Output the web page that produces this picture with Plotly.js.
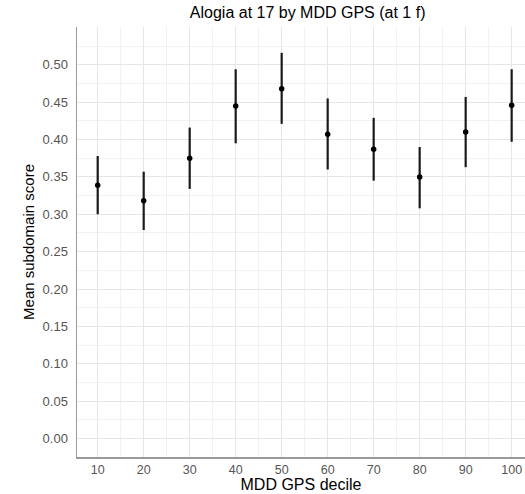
<!DOCTYPE html>
<html>
<head>
<meta charset="utf-8">
<script src="https://cdn.plot.ly/plotly-3.0.1.min.js"></script>
<style>html,body{margin:0;padding:0;background:#fff;overflow:hidden}</style>
</head>
<body>
<div id="chart" style="width:525px;height:494px"></div>
<script>
var deciles = [10, 20, 30, 40, 50, 60, 70, 80, 90, 100];
var meanScore = [0.339, 0.318, 0.375, 0.445, 0.468, 0.407, 0.387, 0.350, 0.410, 0.446];
var upperCI = [0.378, 0.357, 0.416, 0.494, 0.516, 0.455, 0.429, 0.390, 0.457, 0.494];
var lowerCI = [0.300, 0.279, 0.334, 0.395, 0.421, 0.360, 0.345, 0.308, 0.363, 0.397];
var yTicks = [0, 0.05, 0.10, 0.15, 0.20, 0.25, 0.30, 0.35, 0.40, 0.45, 0.50];

var errPlus = meanScore.map(function (m, i) { return upperCI[i] - m; });
var errMinus = meanScore.map(function (m, i) { return m - lowerCI[i]; });

var trace = {
  x: deciles,
  y: meanScore,
  type: 'scatter',
  mode: 'markers',
  marker: {color: '#000000', size: 5.5},
  error_y: {
    type: 'data', symmetric: false,
    array: errPlus, arrayminus: errMinus,
    thickness: 2.2, width: 0, color: '#1a1a1a'
  },
  hoverinfo: 'x+y'
};

var layout = {
  width: 525, height: 494,
  paper_bgcolor: '#ffffff', plot_bgcolor: '#ffffff',
  margin: {l: 77, r: 0, t: 27, b: 37, pad: 0},
  showlegend: false,
  font: {family: 'Liberation Sans, Arial, sans-serif', color: '#000'},
  title: {
    text: 'Alogia at 17 by MDD GPS (at 1 f)',
    font: {size: 16, color: '#000'},
    x: 0.586, xanchor: 'center', y: 0.974, yanchor: 'middle'
  },
  xaxis: {
    range: [5.5, 102.9],
    tickvals: deciles,
    ticktext: deciles.map(String),
    ticks: '', showline: true, linecolor: '#9a9a9a', linewidth: 1.5,
    showgrid: true, gridcolor: '#e6e6e6', gridwidth: 1,
    minor: {dtick: 5, tick0: 5, showgrid: true, gridcolor: '#f2f2f2', gridwidth: 1},
    zeroline: false,
    tickfont: {size: 12.5, color: '#555'},
    title: {text: 'MDD GPS decile', font: {size: 16, color: '#000'}, standoff: 3}
  },
  yaxis: {
    range: [-0.0246, 0.5505],
    tickvals: yTicks,
    tickformat: '.2f',
    ticks: 'outside', ticklen: 5, tickcolor: 'rgba(0,0,0,0)',
    showline: true, linecolor: '#9a9a9a', linewidth: 1.5,
    showgrid: true, gridcolor: '#e6e6e6', gridwidth: 1,
    minor: {dtick: 0.025, tick0: 0, showgrid: true, gridcolor: '#f2f2f2', gridwidth: 1},
    zeroline: false,
    tickfont: {size: 13, color: '#555'},
    title: {text: 'Mean subdomain score', font: {size: 15, color: '#000'}, standoff: 4}
  }
};

Plotly.newPlot('chart', [trace], layout, {displayModeBar: false, staticPlot: true});
</script>
</body>
</html>
